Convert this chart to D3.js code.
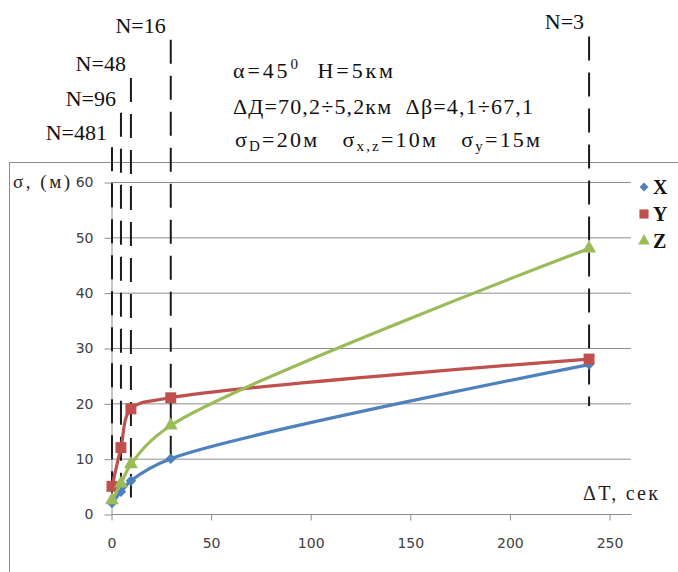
<!DOCTYPE html>
<html>
<head>
<meta charset="utf-8">
<script src="https://cdn.jsdelivr.net/npm/d3@7"></script>
<style>
  body { margin: 0; background: #fff; overflow: hidden; }
  svg { display: block; }
  .serif { font-family: "Times New Roman", "Liberation Serif", "DejaVu Serif", serif; }
</style>
</head>
<body>
<div id="chart"></div>
<script>
// data
const dT = [0.5, 5, 10, 30, 240];          // ΔT, сек
const sigmaX = [2, 4, 6, 10, 27];
const sigmaY = [5, 12, 19, 21, 28];
const sigmaZ = [2.5, 5.5, 9, 16, 48];
const seriesNames = ["X", "Y", "Z"];
const nLabels = ["N=481", "N=96", "N=48", "N=16", "N=3"];
const nTop = [66.3, 72.5, 78.8, 85.7, 86.3];   // upper end of dashed marks (σ units)
const nBottom = [2, 4.3, 3, 8.5, 19.5];        // lower end of dashed marks (σ units)
const yTicks = [0, 10, 20, 30, 40, 50, 60];
const xTicks = [0, 50, 100, 150, 200, 250];

const width = 678;
const height = 572;

const svg = d3.select("#chart")
  .append("svg")
  .attr("width", width)
  .attr("height", height);

// outer chart frame
svg.append("rect")
  .attr("x", 9.5).attr("y", 162.5)
  .attr("width", 720).attr("height", 500)
  .attr("fill", "none")
  .attr("stroke", "#8c8c8c")
  .attr("stroke-width", 1);

// scales
const x = d3.scaleLinear().domain([0, 250]).range([111, 609]);
const y = d3.scaleLinear().domain([0, 60]).range([514, 182]);
const xEnd = x(261);

// gridlines
svg.append("g")
  .selectAll("line")
  .data(yTicks.filter(d => d > 0))
  .join("line")
  .attr("x1", x(0)).attr("x2", xEnd)
  .attr("y1", d => y(d) + 0.5).attr("y2", d => y(d) + 0.5)
  .attr("stroke", "#8c8c8c")
  .attr("stroke-width", 1);

// y axis
const yAxis = svg.append("g")
  .attr("transform", `translate(${x(0) + 0.5},0.5)`)
  .call(d3.axisLeft(y).tickValues(yTicks).tickSize(7).tickSizeOuter(0).tickPadding(11));
yAxis.select(".domain").attr("stroke", "#8c8c8c");
yAxis.selectAll(".tick line").attr("stroke", "#8c8c8c");
yAxis.selectAll(".tick text")
  .attr("font-family", "'DejaVu Sans', sans-serif")
  .attr("font-size", 14)
  .attr("fill", "#404040");

// x axis
const xAxis = svg.append("g")
  .attr("transform", `translate(0.5,${y(0) + 0.5})`)
  .call(d3.axisBottom(x).tickValues(xTicks).tickSize(6).tickSizeOuter(0).tickPadding(18));
xAxis.select(".domain").attr("d", `M${x(0)},0H${xEnd}`).attr("stroke", "#8c8c8c");
xAxis.selectAll(".tick line").attr("stroke", "#8c8c8c");
xAxis.selectAll(".tick text")
  .attr("font-family", "'DejaVu Sans', sans-serif")
  .attr("font-size", 14)
  .attr("fill", "#404040");

// axis titles
svg.append("text")
  .attr("class", "serif")
  .attr("x", 13).attr("y", 188)
  .attr("font-size", 19)
  .attr("textLength", 57)
  .attr("fill", "#222")
  .text("σ, (м)");

svg.append("text")
  .attr("class", "serif")
  .attr("x", 583).attr("y", 500)
  .attr("font-size", 20)
  .attr("textLength", 75)
  .attr("fill", "#222")
  .text("ΔT, сек");

// dashed N markers
const marks = svg.append("g");
dT.forEach((t, i) => {
  marks.append("line")
    .attr("x1", x(t)).attr("x2", x(t))
    .attr("y1", y(nTop[i])).attr("y2", y(nBottom[i]))
    .attr("stroke", "#1a1a1a")
    .attr("stroke-width", 2)
    .attr("stroke-dasharray", "24,12");
  marks.append("text")
    .attr("class", "serif")
    .attr("x", x(t) - 5)
    .attr("y", y(nTop[i]) - 7)
    .attr("text-anchor", "end")
    .attr("font-size", 22)
    .attr("fill", "#111")
    .text(nLabels[i]);
});

// parameters block
const info = svg.append("g")
  .attr("class", "serif")
  .attr("font-size", 22)
  .attr("fill", "#111");

const l1 = info.append("text").attr("x", 233).attr("y", 78)
  .attr("xml:space", "preserve").attr("textLength", 160);
l1.append("tspan").text("α=45");
l1.append("tspan").attr("font-size", 15).attr("dy", -9).text("0");
l1.append("tspan").attr("dy", 9).text("  H=5км");

info.append("text").attr("x", 233).attr("y", 114)
  .attr("xml:space", "preserve").attr("textLength", 300)
  .text("ΔД=70,2÷5,2км  Δβ=4,1÷67,1");

const l3 = info.append("text").attr("x", 235).attr("y", 147)
  .attr("xml:space", "preserve").attr("textLength", 305);
l3.append("tspan").text("σ");
l3.append("tspan").attr("font-size", 15).attr("dy", 4).text("D");
l3.append("tspan").attr("dy", -4).text("=20м   σ");
l3.append("tspan").attr("font-size", 15).attr("dy", 4).text("x,z");
l3.append("tspan").attr("dy", -4).text("=10м   σ");
l3.append("tspan").attr("font-size", 15).attr("dy", 4).text("y");
l3.append("tspan").attr("dy", -4).text("=15м");

// series
const series = [
  { name: seriesNames[0], values: sigmaX, color: "#4f81bd", symbol: d3.symbolSquare, size: 55, rotate: 45 },
  { name: seriesNames[1], values: sigmaY, color: "#c0504d", symbol: d3.symbolSquare, size: 120, rotate: 0 },
  { name: seriesNames[2], values: sigmaZ, color: "#9bbb59", symbol: d3.symbolTriangle, size: 85, rotate: 0 }
];

const line = d3.line()
  .x(d => x(d[0]))
  .y(d => y(d[1]))
  .curve(d3.curveCatmullRom.alpha(0.5));

series.forEach(s => {
  const pts = dT.map((t, i) => [t, s.values[i]]);
  svg.append("path")
    .datum(pts)
    .attr("d", line)
    .attr("fill", "none")
    .attr("stroke", s.color)
    .attr("stroke-width", 3.2)
    .attr("stroke-linejoin", "round");
  svg.append("g")
    .selectAll("path")
    .data(pts)
    .join("path")
    .attr("transform", d => `translate(${x(d[0])},${y(d[1])}) rotate(${s.rotate})`)
    .attr("d", d3.symbol().type(s.symbol).size(s.size))
    .attr("fill", s.color);
});

// legend
const legend = svg.append("g");
series.forEach((s, i) => {
  const ly = 187 + i * 27;
  legend.append("path")
    .attr("transform", `translate(644,${ly}) rotate(${s.rotate})`)
    .attr("d", d3.symbol().type(s.symbol).size(s.size * 0.7))
    .attr("fill", s.color);
  legend.append("text")
    .attr("class", "serif")
    .attr("x", 653).attr("y", ly + 7)
    .attr("font-weight", "bold")
    .attr("font-size", 20)
    .attr("fill", "#111")
    .text(s.name);
});
</script>
</body>
</html>
